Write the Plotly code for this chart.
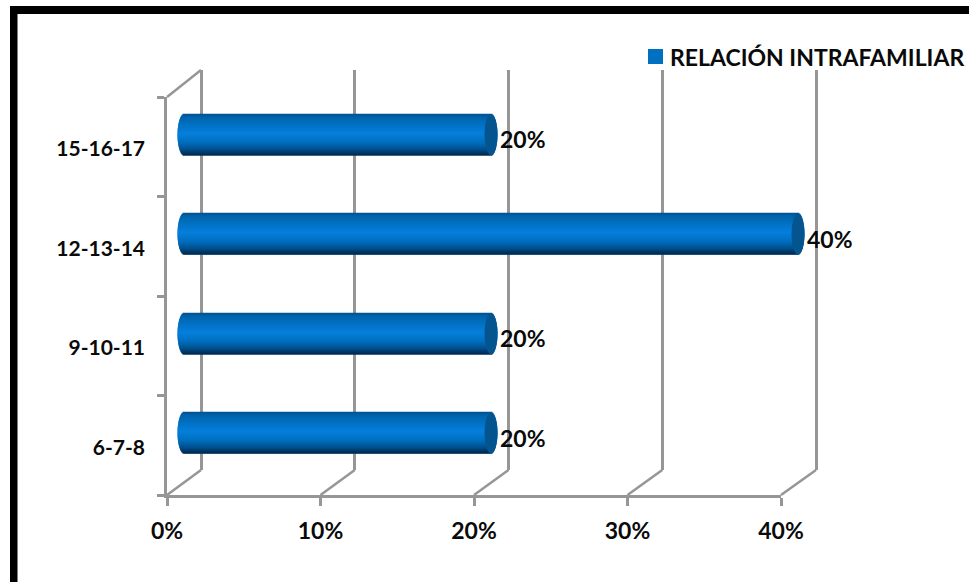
import math
import plotly.graph_objects as go

categories = ["6-7-8", "9-10-11", "12-13-14", "15-16-17"]
values = [20, 20, 40, 20]
labels = ["20%", "20%", "40%", "20%"]
x_ticks = [0, 10, 20, 30, 40]
x_tick_labels = ["0%", "10%", "20%", "30%", "40%"]
series_name = "RELACIÓN INTRAFAMILIAR"

W, H = 969, 582
FONT = "Lato"
GREY = "#969696"
TXT = "#0a0a0a"
LW = 2.5

def fx(p): return p / W
def fy(p): return 1 - p / H

# front plane, back wall, bar plane (pixels)
FL, FR, FT, FB = 167, 781, 97, 495
BL, BR, BT, BB = 201, 816, 70, 470
BACK_U = (BR - BL) / 40
UNIT = 15.35
BAR0 = 184
BAR_L, BAR_R = BAR0 - UNIT, BAR0 + 42 * UNIT
BAR_B, BAR_T = 482.75, 84.75
BAND = (BAR_B - BAR_T) / 4
BAR_PX = 41
RX = 6.5

stops = [(0, (1, 80, 140)), (0.08, (1, 98, 170)), (0.2, (0, 108, 186)), (0.48, (6, 128, 220)),
         (0.7, (0, 110, 190)), (0.85, (0, 84, 148)), (1, (0, 42, 80))]

def colour(t):
    for (a, ca), (b, cb) in zip(stops, stops[1:]):
        if t <= b:
            k = (t - a) / (b - a)
            return "rgb(%d,%d,%d)" % tuple(round(p + (q - p) * k) for p, q in zip(ca, cb))
    return "rgb(0,42,80)"

ys = list(range(len(categories)))
fig = go.Figure()

# keep the front plane and the back wall subplots alive
fig.add_trace(go.Scatter(x=[None], y=[None], xaxis="x", yaxis="y", showlegend=False, hoverinfo="skip"))
fig.add_trace(go.Scatter(x=[None], y=[None], xaxis="x2", yaxis="y2", showlegend=False, hoverinfo="skip"))

# main series
fig.add_trace(go.Bar(x=values, y=ys, orientation="h", xaxis="x3", yaxis="y3", width=BAR_PX / BAND,
                     marker=dict(color="#0070c0", line=dict(width=0)), showlegend=False, name=series_name,
                     hoverinfo="skip"))
# cylinder shading, one pixel row at a time
for i in range(BAR_PX):
    t = (i + 0.5) / BAR_PX
    e = RX / UNIT * math.sqrt(max(0, 1 - (2 * t - 1) ** 2))
    off = (BAR_PX / 2 - i - 1) / BAND
    fig.add_trace(go.Bar(x=[v + 2 * e for v in values], y=ys, base=-e, orientation="h", xaxis="x3", yaxis="y3",
                         width=1 / BAND, offset=off, marker=dict(color=colour(t), line=dict(width=0)),
                         showlegend=False, hoverinfo="skip"))
# legend entry (its swatch is drawn as a shape to sit tight against the text)
fig.add_trace(go.Scatter(x=[None], y=[None], mode="markers", name=series_name, xaxis="x3", yaxis="y3",
                         marker=dict(symbol="square", size=15, color="rgba(0,0,0,0)")))

shapes = [
    dict(type="rect", xref="paper", yref="paper", x0=fx(10), x1=fx(17.5), y0=0, y1=fy(6), fillcolor="#000", line_width=0),
    dict(type="rect", xref="paper", yref="paper", x0=fx(10), x1=1, y0=fy(14), y1=fy(6), fillcolor="#000", line_width=0),
    dict(type="rect", xref="paper", yref="paper", x0=fx(648), x1=fx(663), y0=fy(64), y1=fy(49), fillcolor="#0070c0", line_width=0),
    dict(type="line", xref="paper", yref="paper", x0=fx(FL), x1=fx(BL), y0=fy(FT), y1=fy(BT), line=dict(color=GREY, width=LW)),
]
for t in x_ticks:
    k = t / x_ticks[-1]
    shapes.append(dict(type="line", xref="paper", yref="paper", layer="below",
                       x0=fx(FL + k * (FR - FL)), x1=fx(BL + k * (BR - BL)), y0=fy(FB), y1=fy(BB),
                       line=dict(color=GREY, width=LW)))
# dark end cap of each cylinder
for y, v in zip(ys, values):
    shapes.append(dict(type="circle", xref="x3", yref="y3", xsizemode="pixel", xanchor=v, x0=-RX, x1=RX,
                       y0=y - BAR_PX / BAND / 2, y1=y + BAR_PX / BAND / 2, fillcolor="#04548f", line_width=0))

annotations = [dict(x=v, y=y, xref="x3", yref="y3", text="<b>%s</b>" % l, showarrow=False, xanchor="left",
                    xshift=7, yshift=-4.5, font=dict(family=FONT, size=23, color=TXT))
               for v, y, l in zip(values, ys, labels)]

ax_common = dict(showgrid=False, zeroline=False)
fig.update_layout(
    width=W, height=H, margin=dict(l=0, r=0, t=0, b=0, autoexpand=False), paper_bgcolor="white",
    plot_bgcolor="rgba(0,0,0,0)", barmode="overlay", shapes=shapes, annotations=annotations,
    font=dict(family=FONT, color=TXT),
    legend=dict(x=fx(630), y=fy(36), xanchor="left", yanchor="top", bgcolor="rgba(0,0,0,0)",
                font=dict(family=FONT, size=23, weight="bold", color=TXT)),
    xaxis=dict(domain=[fx(FL), fx(FR)], range=[0, 40], anchor="y", tickmode="array", tickvals=x_ticks,
               ticktext=x_tick_labels, ticks="outside", ticklen=8, tickwidth=LW, tickcolor=GREY, showline=True,
               linecolor=GREY, linewidth=LW, ticklabelstandoff=6,
               tickfont=dict(family=FONT, size=23, weight="bold", color=TXT), **ax_common),
    yaxis=dict(domain=[fy(FB), fy(FT)], range=[-0.5, 3.5], anchor="x", tickmode="array", tickvals=ys,
               ticktext=categories, ticks="", showline=True, linecolor=GREY, linewidth=LW, ticklabelstandoff=15,
               ticklabelshift=2,
               minor=dict(tickmode="array", tickvals=[-0.5, 0.5, 1.5, 2.5, 3.5], ticks="outside", ticklen=7,
                          tickwidth=LW, tickcolor=GREY),
               tickfont=dict(family=FONT, size=21, weight="bold", color=TXT), **ax_common),
    xaxis2=dict(domain=[fx(BL - BACK_U), fx(BR + BACK_U)], range=[-1, 41], anchor="y2", tickmode="array", tickvals=x_ticks,
                showticklabels=False, showgrid=True, gridcolor=GREY, gridwidth=LW, zeroline=False),
    yaxis2=dict(domain=[fy(BB), fy(BT)], range=[0, 1], anchor="x2", showticklabels=False, showgrid=False, zeroline=False),
    xaxis3=dict(domain=[fx(BAR_L), fx(BAR_R)], range=[-1, 42], anchor="y3", visible=False),
    yaxis3=dict(domain=[fy(BAR_B), fy(BAR_T)], range=[-0.5, 3.5], anchor="x3", visible=False),
)

fig.write_html("out.html", post_script="document.body.style.margin='0';", config={"displayModeBar": False})
